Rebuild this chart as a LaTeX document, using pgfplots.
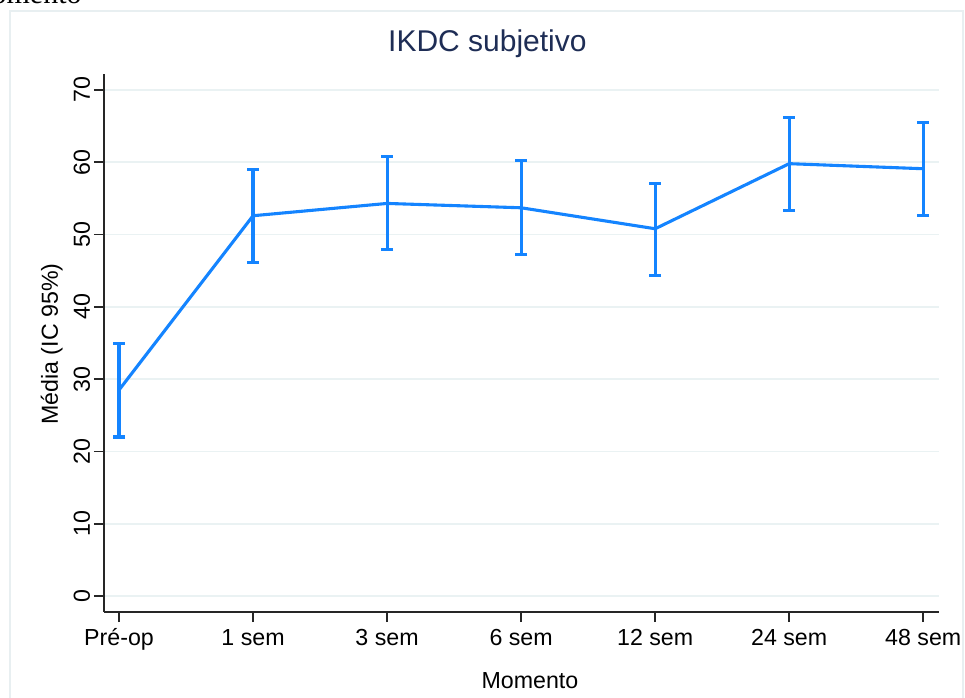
\documentclass[border=0pt]{standalone}
\usepackage{pgfplots}
\pgfplotsset{compat=1.18}
\usepackage{pgfplotstable}
\usepackage{fontspec}
\setmainfont{Liberation Sans}
\newfontfamily\serifont{Liberation Serif}
\definecolor{lineblue}{RGB}{20,132,255}
\definecolor{gridc}{RGB}{234,242,243}
\definecolor{titlec}{RGB}{30,45,85}
\definecolor{framec}{RGB}{232,239,241}
\pgfplotstableread{
x y lo hi
0 28.5 22.0 34.9
1 52.6 46.1 59.0
2 54.3 47.9 60.8
3 53.7 47.2 60.2
4 50.8 44.3 57.1
5 59.8 53.3 66.2
6 59.1 52.6 65.5
}\ikdc
\begin{document}
\begin{tikzpicture}[x=0.5pt,y=0.5pt]
\draw[framec, line width=0.6pt] (10,-5) rectangle (963,686);
\node[anchor=base east, font=\serifont\fontsize{15}{18}\selectfont, inner sep=0pt] at (82,693) {Momento};
\begin{axis}[
  at={(52pt,42.5pt)}, anchor=south west,
  scale only axis, width=417.65pt, height=269pt,
  xmin=-0.112, xmax=6.12, ymin=-2.2, ymax=72.2,
  axis x line*=bottom, axis y line*=left,
  axis line style={line width=0.75pt, black!85, -},
  xtick={0,...,6},
  xticklabels={Pré-op,1 sem,3 sem,6 sem,12 sem,24 sem,48 sem},
  ytick={0,10,...,70},
  tick align=outside, major tick length=5pt,
  tick style={line width=0.75pt, black!85},
  ymajorgrids, grid style={gridc, line width=0.75pt},
  /pgf/number format/assume math mode=true,
  tick label style={font=\fontsize{11.6}{14}\selectfont},
  yticklabel style={rotate=90, anchor=south, inner sep=0pt},
  yticklabel shift=1.8pt,
  xticklabel style={anchor=north, inner sep=0pt, text height=8.4pt, text depth=2.4pt},
  xticklabel shift=3pt,
  title={IKDC subjetivo},
  title style={at={(0.459,1.02)}, anchor=base, font=\fontsize{15}{18}\selectfont, text=titlec, inner sep=0pt},
  xlabel={Momento},
  xlabel style={at={(0.510,-0.143)}, anchor=base, font=\fontsize{11.6}{14}\selectfont, inner sep=0pt},
  ylabel={Média (IC 95\%)},
  ylabel style={at={(-0.0551,0.498)}, anchor=base, rotate=0, font=\fontsize{11.6}{14}\selectfont, inner sep=0pt},
  clip=false,
]
\addplot[lineblue, line width=1.55pt, mark=none,
  error bars/.cd, y dir=both, y explicit,
  error bar style={line width=1.55pt, lineblue},
  error mark options={rotate=90, mark size=3pt, line width=1.55pt, lineblue}]
  table[x=x, y=y, y error plus expr=\thisrow{hi}-\thisrow{y}, y error minus expr=\thisrow{y}-\thisrow{lo}] {\ikdc};
\end{axis}
\pgfresetboundingbox
\path[use as bounding box] (0,0) rectangle (965,697);
\end{tikzpicture}
\end{document}
